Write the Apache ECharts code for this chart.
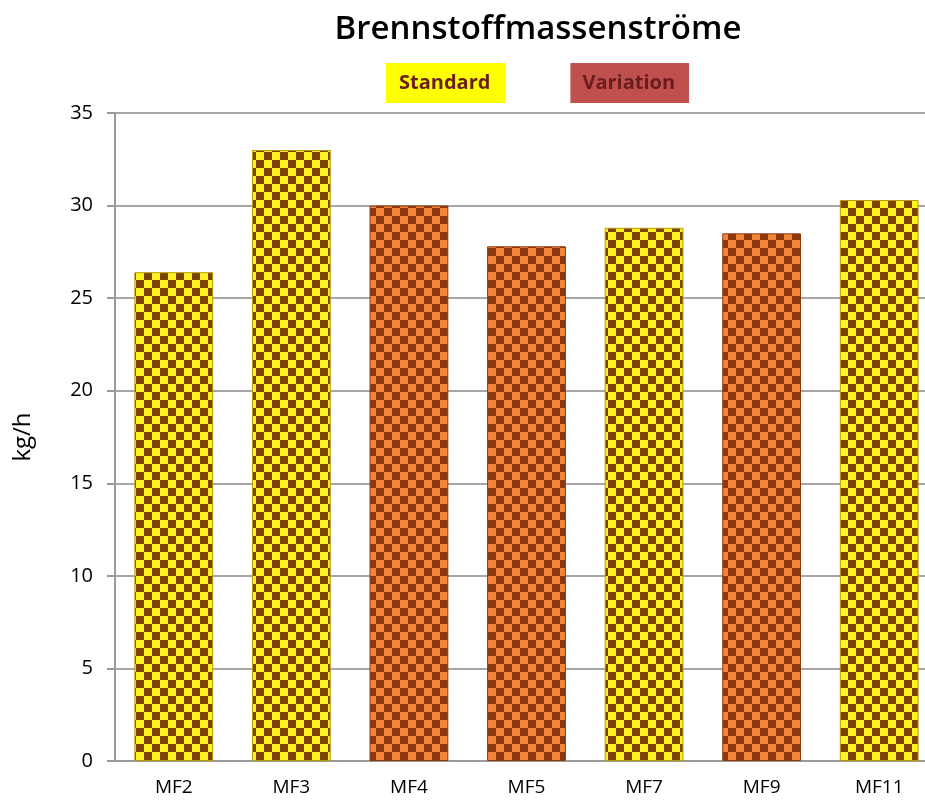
<!DOCTYPE html>
<html>
<head>
<meta charset="utf-8">
<script src="https://cdn.jsdelivr.net/npm/echarts@6/dist/echarts.min.js"></script>
<style>
  html, body { margin: 0; padding: 0; background: #fff; }
  #chart { width: 925px; height: 801px; }
</style>
</head>
<body>
<div id="chart"></div>
<script>
// values
const categories = ['MF2', 'MF3', 'MF4', 'MF5', 'MF7', 'MF9', 'MF11'];
const standardValues = [26.4, 33.0, '-', '-', 28.8, '-', 30.3];
const variationValues = ['-', '-', 30.0, 27.8, '-', 28.5, '-'];
const yTicks = { min: 0, max: 35, interval: 5 };

const FONT = '"Open Sans", "Liberation Sans", sans-serif';

// checkered fill like the original hatch
function checker(light, dark, cell) {
    const c = document.createElement('canvas');
    c.width = c.height = cell * 2;
    const ctx = c.getContext('2d');
    ctx.fillStyle = light;
    ctx.fillRect(0, 0, cell * 2, cell * 2);
    ctx.fillStyle = dark;
    ctx.fillRect(0, 0, cell, cell);
    ctx.fillRect(cell, cell, cell, cell);
    return { image: c, repeat: 'repeat' };
}

const chart = echarts.init(document.getElementById('chart'));

const option = {
    animation: false,
    title: {
        text: 'Brennstoffmassenströme',
        left: 533,
        textAlign: 'center',
        top: 8,
        textStyle: { fontFamily: FONT, fontSize: 33, fontWeight: 600, color: '#000' }
    },
    legend: {
        left: 376,
        top: 58,
        itemWidth: 0,
        itemHeight: 0,
        itemGap: 60,
        selectedMode: false,
        data: [
            {
                name: 'Standard', icon: 'none',
                textStyle: { backgroundColor: '#FFFF00', padding: [10, 15, 10, 13] }
            },
            {
                name: 'Variation', icon: 'none',
                textStyle: { backgroundColor: '#C0504D', padding: [10, 14, 10, 12] }
            }
        ],
        textStyle: { fontFamily: FONT, fontSize: 20, fontWeight: 'bold', color: '#6B1D1D' }
    },
    grid: {
        left: 115,
        top: 113,
        bottom: 40,
        width: 823,
        outerBoundsMode: 'none'
    },
    xAxis: {
        type: 'category',
        data: categories,
        axisLine: { lineStyle: { color: '#9A9A9A', width: 2 } },
        axisTick: { show: false },
        axisLabel: { fontFamily: FONT, fontSize: 19, color: '#000', margin: 17 }
    },
    yAxis: {
        type: 'value',
        min: yTicks.min,
        max: yTicks.max,
        interval: yTicks.interval,
        name: 'kg/h',
        nameLocation: 'middle',
        nameRotate: 90,
        nameGap: 80,
        nameTextStyle: { fontFamily: FONT, fontSize: 24, color: '#000' },
        axisLine: { show: true, lineStyle: { color: '#9A9A9A', width: 2 } },
        axisTick: { show: true, length: 8, lineStyle: { color: '#9A9A9A', width: 2 } },
        splitLine: { lineStyle: { color: '#A6A6A6', width: 2 } },
        axisLabel: { fontFamily: FONT, fontSize: 20, color: '#000', margin: 22 }
    },
    series: [
        {
            name: 'Standard',
            type: 'bar',
            stack: 'one',
            barWidth: '67%',
            data: standardValues,
            itemStyle: {
                color: checker('#FFF222', '#7C4300', 8),
                borderColor: '#B59A00',
                borderWidth: 1
            }
        },
        {
            name: 'Variation',
            type: 'bar',
            stack: 'one',
            barWidth: '67%',
            data: variationValues,
            itemStyle: {
                color: checker('#F5843A', '#8E370C', 8),
                borderColor: '#8E370C',
                borderWidth: 1
            }
        }
    ]
};

chart.setOption(option);
</script>
</body>
</html>
